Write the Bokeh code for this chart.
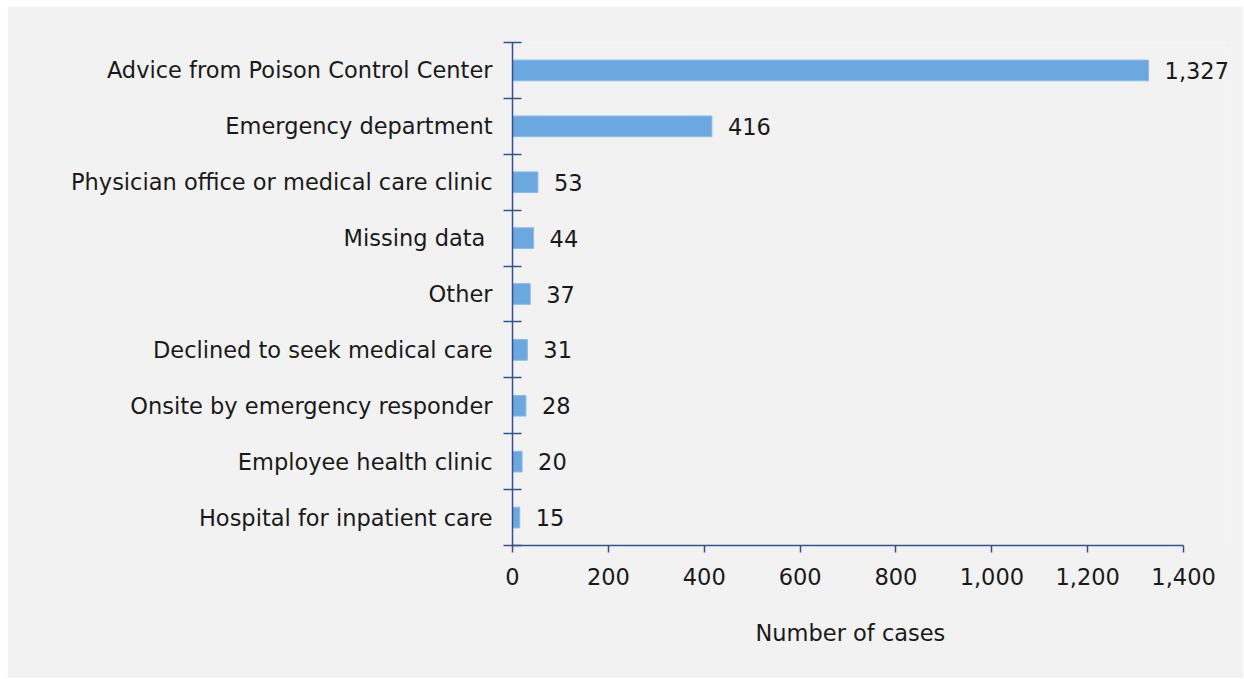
from bokeh.plotting import figure
from bokeh.models import ColumnDataSource, FixedTicker, NumeralTickFormatter, Range1d, LabelSet, Title
from bokeh.core.properties import value
from bokeh.embed import file_html
from bokeh.resources import INLINE

categories = ["Advice from Poison Control Center", "Emergency department",
              "Physician office or medical care clinic", "Missing data ",
              "Other", "Declined to seek medical care",
              "Onsite by emergency responder", "Employee health clinic",
              "Hospital for inpatient care"]
values = [1327, 416, 53, 44, 37, 31, 28, 20, 15]
x_ticks = [0, 200, 400, 600, 800, 1000, 1200, 1400]
x_title = "Number of cases"

n = len(categories)
ypos = [n - i - 0.5 for i in range(n)]
labels = [f"{v:,}" for v in values]
src = ColumnDataSource(dict(y=ypos, v=values, lab=labels))

BG = "#f2f2f2"
AX = "#34518f"
FONT = "DejaVu Sans"
TXT = "#1a1a1a"
FS = "22.5px"

p = figure(width=1236, height=672, output_backend="svg", toolbar_location=None,
           x_range=Range1d(0, 1500), y_range=Range1d(0, n),
           frame_width=719, frame_height=503,
           min_border_left=505, min_border_right=12, min_border_top=36, min_border_bottom=133)
p.styles = {"margin-left": "7px", "margin-top": "6px"}
p.background_fill_color = BG
p.border_fill_color = BG
p.outline_line_color = None
p.grid.visible = False

p.hbar(y="y", right="v", left=0, height=0.37, source=src,
       fill_color="#6ca8e0", line_color="#8bbbe8", line_width=1)

p.add_layout(LabelSet(x="v", y="y", text="lab", source=src, x_offset=16, y_offset=0,
                      text_baseline="middle", text_font=value(FONT), text_font_size=value(FS),
                      text_color=TXT))

# x axis
xa = p.xaxis[0]
xa.bounds = (0, 1400)
xa.ticker = FixedTicker(ticks=x_ticks)
xa.formatter = NumeralTickFormatter(format="0,0")
xa.axis_line_color = AX
xa.axis_line_width = 1.5
xa.major_tick_line_color = AX
xa.major_tick_line_width = 1.5
xa.major_tick_in = 0
xa.major_tick_out = 7
xa.minor_tick_line_color = None
xa.major_label_standoff = 15
xa.major_label_text_font = FONT
xa.major_label_text_font_size = FS
xa.major_label_text_color = TXT

# axis title, centred under the 0-1,400 span of the axis
p.add_layout(Title(text=x_title, align="left", offset=243, standoff=62,
                   vertical_align="middle",
                   text_font=FONT, text_font_size=FS, text_font_style="normal",
                   text_color=TXT), "below")

# y axis
ya = p.yaxis[0]
ya.ticker = FixedTicker(ticks=ypos, minor_ticks=list(range(n + 1)))
ya.major_label_overrides = {y: c for y, c in zip(ypos, categories)}
ya.axis_line_color = AX
ya.axis_line_width = 1.5
ya.major_tick_line_color = None
ya.major_tick_in = 0
ya.major_tick_out = 0
ya.minor_tick_line_color = AX
ya.minor_tick_line_width = 1.5
ya.minor_tick_in = 9
ya.minor_tick_out = 9
ya.major_label_standoff = 11
ya.major_label_text_font = FONT
ya.major_label_text_font_size = FS
ya.major_label_text_color = TXT

open("out.html", "w").write(file_html(p, INLINE))
